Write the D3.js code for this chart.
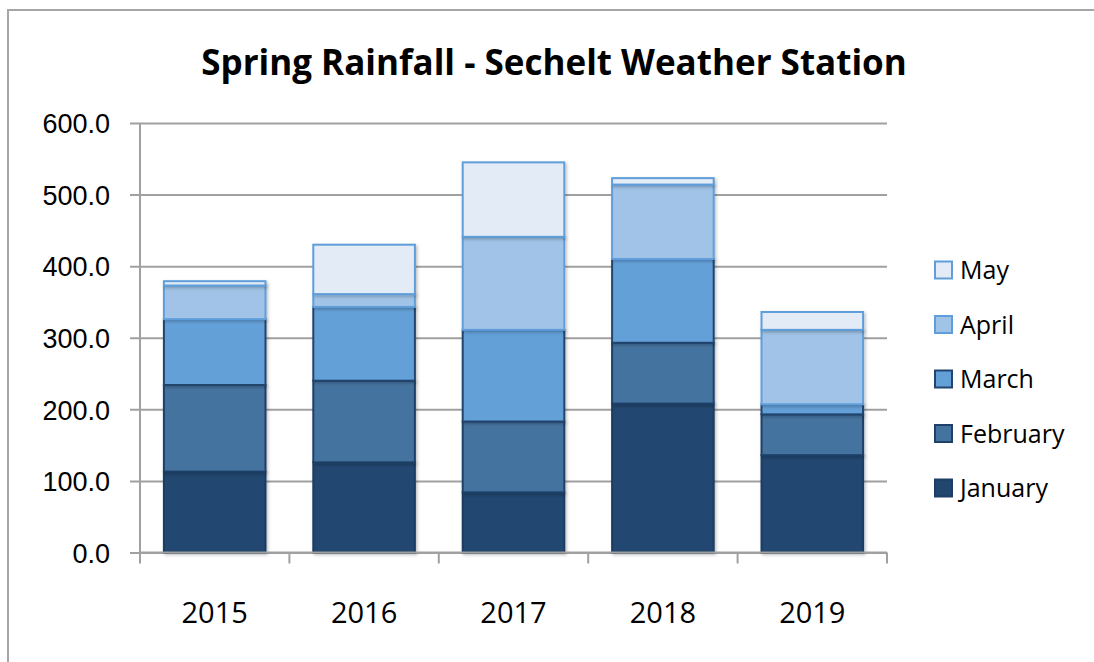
<!DOCTYPE html>
<html>
<head>
<meta charset="utf-8">
<script src="https://cdn.jsdelivr.net/npm/d3@7"></script>
<style>
  body { margin: 0; background: #fff; }
  svg { display: block; font-family: "Open Sans", sans-serif; }
</style>
</head>
<body>
<svg id="chart" width="1094" height="662"></svg>
<script>
// rainfall by month (mm)
const years = ["2015", "2016", "2017", "2018", "2019"];
const months = ["January", "February", "March", "April", "May"];
const january = [113, 126, 84, 208, 136];
const february = [121, 114, 99, 85, 57];
const march = [92, 103, 128, 117, 14];
const april = [47, 18, 130, 104, 104];
const may = [6, 69, 104, 9, 25];
const yTicks = [0, 100, 200, 300, 400, 500, 600];

const fills = ["#22466f", "#44739f", "#63a0d8", "#a0c3e7", "#e2ebf6"];
const strokes = ["#1e3e63", "#1f4068", "#23456d", "#5f9eda", "#5f9eda"];

const rows = years.map((year, i) => ({
  year,
  January: january[i],
  February: february[i],
  March: march[i],
  April: april[i],
  May: may[i]
}));

const svg = d3.select("#chart");
const plotLeft = 140, plotRight = 887, plotTop = 123, plotBottom = 552.5;

// outer frame, cut off at right and bottom like the screenshot
svg.append("rect")
  .attr("x", 8).attr("y", 10)
  .attr("width", 1200).attr("height", 800)
  .attr("fill", "none")
  .attr("stroke", "#a6a6a6")
  .attr("stroke-width", 2);

const defs = svg.append("defs");
defs.append("filter")
  .attr("id", "shadow")
  .attr("x", "-10%").attr("y", "-10%").attr("width", "130%").attr("height", "130%")
  .append("feDropShadow")
    .attr("dx", 1.5).attr("dy", 1.5)
    .attr("stdDeviation", 1.5)
    .attr("flood-color", "#000")
    .attr("flood-opacity", 0.25);

const x = d3.scaleBand()
  .domain(years)
  .range([plotLeft, plotRight])
  .paddingInner(0.32)
  .paddingOuter(0.16);

const y = d3.scaleLinear()
  .domain([0, 600])
  .range([plotBottom, plotTop]);

// title
svg.append("text")
  .attr("x", 554).attr("y", 75)
  .attr("text-anchor", "middle")
  .attr("font-size", 35)
  .attr("font-weight", "bold")
  .attr("fill", "#000")
  .text("Spring Rainfall - Sechelt Weather Station");

// grid lines + y axis
const yAxis = d3.axisLeft(y)
  .tickValues(yTicks)
  .tickSize(-(plotRight - plotLeft))
  .tickPadding(20)
  .tickFormat(d3.format(".1f"));

const yg = svg.append("g")
  .attr("transform", `translate(${plotLeft},0)`)
  .call(yAxis);
yg.select(".domain").remove();
yg.selectAll(".tick line")
  .attr("x1", -10)
  .attr("stroke", "#a0a0a0")
  .attr("stroke-width", 2);
yg.selectAll(".tick text")
  .attr("font-size", 27)
  .attr("fill", "#000")
  .attr("x", -30)
  .attr("dy", "0.36em");

svg.append("line")
  .attr("x1", plotLeft).attr("x2", plotLeft)
  .attr("y1", plotTop).attr("y2", plotBottom)
  .attr("stroke", "#a0a0a0")
  .attr("stroke-width", 2);

// stacked bars
const series = d3.stack().keys(months)(rows);

svg.append("g")
  .selectAll("g")
  .data(series)
  .join("g")
    .attr("fill", (d, i) => fills[i])
    .attr("stroke", (d, i) => strokes[i])
    .attr("stroke-width", 2)
    .attr("filter", "url(#shadow)")
  .selectAll("rect")
  .data(d => d)
  .join("rect")
    .attr("x", d => x(d.data.year))
    .attr("y", d => y(d[1]))
    .attr("width", x.bandwidth())
    .attr("height", d => y(d[0]) - y(d[1]));

// x axis with ticks between categories
const bounds = years.map(d => x(d) - x.step() * x.paddingInner() / 2).concat([plotRight]);
const xg = svg.append("g");
xg.append("line")
  .attr("x1", plotLeft).attr("x2", plotRight)
  .attr("y1", plotBottom).attr("y2", plotBottom)
  .attr("stroke", "#a0a0a0")
  .attr("stroke-width", 2);
xg.selectAll("line.tick")
  .data(bounds)
  .join("line")
    .attr("class", "tick")
    .attr("x1", d => d).attr("x2", d => d)
    .attr("y1", plotBottom).attr("y2", plotBottom + 11)
    .attr("stroke", "#a0a0a0")
    .attr("stroke-width", 2);
xg.selectAll("text")
  .data(years)
  .join("text")
    .attr("x", d => x(d) + x.bandwidth() / 2)
    .attr("y", 623)
    .attr("text-anchor", "middle")
    .attr("font-size", 29)
    .attr("fill", "#000")
    .text(d => d);

// legend, May at top
const legendItems = months.map((m, i) => ({ m, i })).reverse();
const legend = svg.append("g")
  .selectAll("g")
  .data(legendItems)
  .join("g")
    .attr("transform", (d, k) => `translate(935, ${270 + k * 54.5})`);
legend.append("rect")
  .attr("x", 0).attr("y", -8.5)
  .attr("width", 17).attr("height", 17)
  .attr("fill", d => fills[d.i])
  .attr("stroke", d => strokes[d.i])
  .attr("stroke-width", 2);
legend.append("text")
  .attr("x", 25)
  .attr("dy", "0.36em")
  .attr("font-size", 25)
  .attr("fill", "#000")
  .text(d => d.m);
</script>
</body>
</html>
